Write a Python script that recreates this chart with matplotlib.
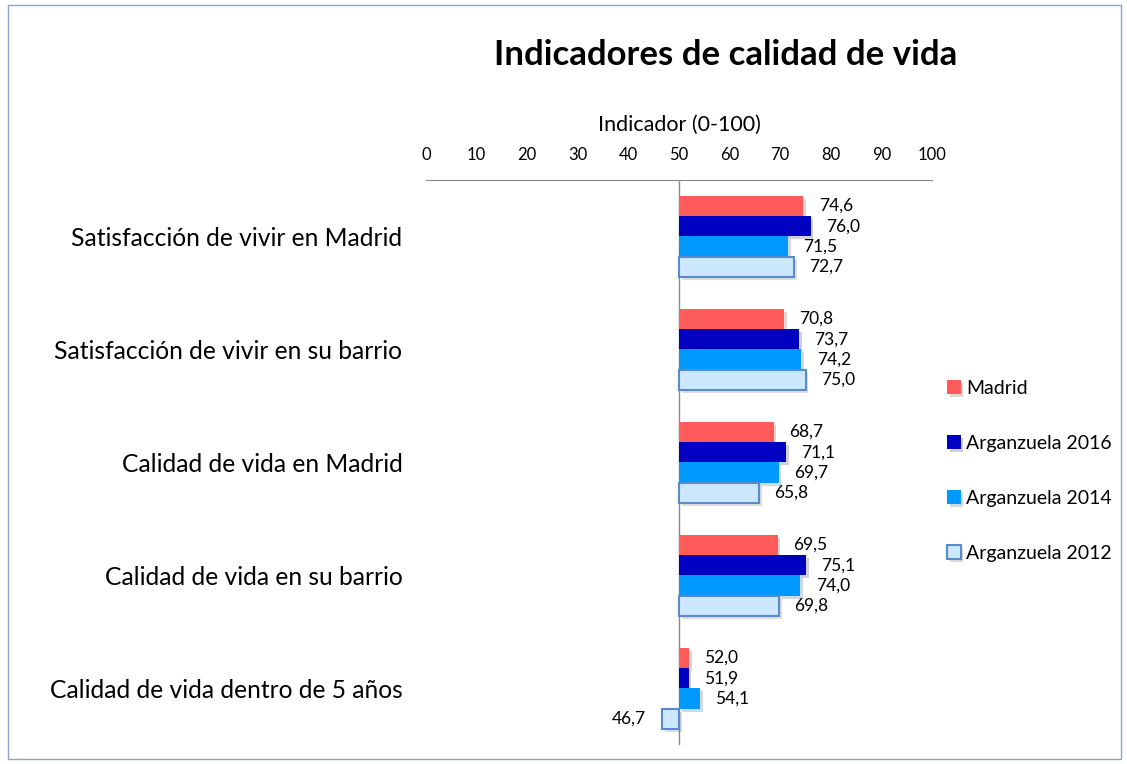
import numpy as np
import matplotlib.pyplot as plt
from matplotlib.patches import Rectangle
import matplotlib.patheffects as pe

plt.rcParams['font.family'] = ['Lato', 'DejaVu Sans']

categorias = ['Satisfacción de vivir en Madrid', 'Satisfacción de vivir en su barrio',
              'Calidad de vida en Madrid', 'Calidad de vida en su barrio',
              'Calidad de vida dentro de 5 años']
madrid = [74.6, 70.8, 68.7, 69.5, 52.0]
arg_2016 = [76.0, 73.7, 71.1, 75.1, 51.9]
arg_2014 = [71.5, 74.2, 69.7, 74.0, 54.1]
arg_2012 = [72.7, 75.0, 65.8, 69.8, 46.7]
series = ['Madrid', 'Arganzuela 2016', 'Arganzuela 2014', 'Arganzuela 2012']
colores = ['#FF5B5B', '#0000C0', '#0099FF', '#CCE8FF']
bordes = ['none', 'none', 'none', '#5B8AC8']
base = 50

fig = plt.figure(figsize=(11.27, 7.64), dpi=100)
ax = fig.add_axes([0.378, 0.025, 0.449, 0.7395])

y = np.arange(len(categorias))
h = 0.18
offsets = [-1.5 * h, -0.5 * h, 0.5 * h, 1.5 * h]
sombra = [pe.SimplePatchShadow(offset=(2, -2), alpha=0.18), pe.Normal()]

for datos, nombre, col, borde, off in zip([madrid, arg_2016, arg_2014, arg_2012],
                                          series, colores, bordes, offsets):
    vals = np.array(datos)
    bars = ax.barh(y + off, vals - base, left=base, height=h, color=col,
                   edgecolor=borde, linewidth=1.5 if borde != 'none' else 0,
                   label=nombre, zorder=3)
    for b in bars:
        b.set_path_effects(sombra)
    for yi, v in zip(y + off, vals):
        txt = f'{v:.1f}'.replace('.', ',')
        if v >= base:
            ax.annotate(txt, (v, yi), xytext=(11, 0), textcoords='offset points',
                        ha='left', va='center', fontsize=12.5)
        else:
            ax.annotate(txt, (v, yi), xytext=(-12, 0), textcoords='offset points',
                        ha='right', va='center', fontsize=12.5)

ax.set_xlim(0, 100)
ax.set_ylim(len(categorias) - 0.5, -0.5)
ax.set_xticks(range(0, 101, 10))
ax.xaxis.tick_top()
ax.xaxis.set_label_position('top')
ax.tick_params(axis='x', length=0, labelsize=12, pad=12)
ax.tick_params(axis='y', length=0, labelsize=17.7, pad=17)
ax.set_yticks(y)
ax.set_yticklabels(categorias)
ax.set_xlabel('Indicador (0-100)', fontsize=15.5, labelpad=12)
for s in ['right', 'bottom', 'left']:
    ax.spines[s].set_visible(False)
ax.spines['top'].set_color('#888888')
ax.axvline(base, color='#888888', linewidth=1, zorder=2)

ax.legend(loc='center left', bbox_to_anchor=(0.995, 0.485), frameon=False, fontsize=14,
          handlelength=0.7, handleheight=0.7, handletextpad=0.3, labelspacing=1.95)

fig.text(0.644, 0.928, 'Indicadores de calidad de vida', ha='center', va='center',
         fontsize=25, fontweight='bold')
fig.patches.append(Rectangle((0.007, 0.006), 0.988, 0.988, transform=fig.transFigure,
                             fill=False, edgecolor='#8EA4C0', linewidth=1))

fig.savefig('out.png', dpi=100)
